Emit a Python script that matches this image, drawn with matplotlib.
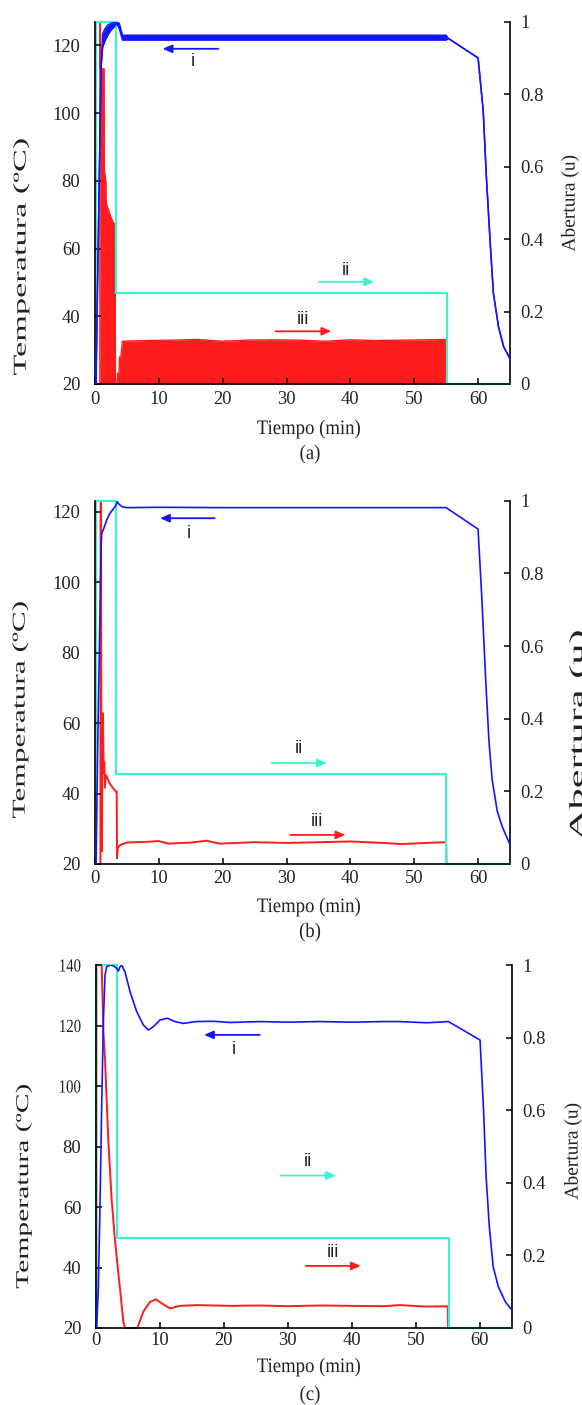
import matplotlib
matplotlib.use("Agg")
import matplotlib.pyplot as plt
from matplotlib.patheffects import AbstractPathEffect
from matplotlib.transforms import Affine2D

# ---------------- data ----------------
x_ticks = [0, 10, 20, 30, 40, 50, 60]
u_ticks = [0, 0.2, 0.4, 0.6, 0.8, 1.0]
u_labels = ["0", "0.2", "0.4", "0.6", "0.8", "1"]
T_ticks_ab = [20, 40, 60, 80, 100, 120]
T_ticks_c = [20, 40, 60, 80, 100, 120, 140]

# panel (a)
ta_temp = [0, 0.15, 0.95, 1.2, 1.6, 2.0, 2.5, 3.0, 3.4, 3.8, 4.3, 10, 20, 30, 40, 50, 55, 55.3,
           60, 60.8, 61.3, 61.9, 62.4, 63.2, 64.0, 65]
Ta_lo = [20, 20, 113.5, 119.5, 121.5, 123, 124.5, 125.5, 126.5, 125, 121.6, 121.6, 121.6, 121.6,
         121.6, 121.6, 121.6, 122.1, 116.3, 100.8, 81.2, 61.6, 46.8, 36.9, 31.0, 27.5]
Ta_hi = [20, 20, 113.5, 123.5, 125, 126, 126.5, 127, 127, 126.5, 123.0, 123.0, 123.0, 123.0,
         123.0, 123.0, 123.0, 122.1, 116.3, 100.8, 81.2, 61.6, 46.8, 36.9, 31.0, 27.5]
ta_red = [0, 0.76, 0.77, 0.83, 0.86, 1.42, 1.45, 1.70, 1.75, 2.10, 2.50, 2.90, 3.15, 3.20, 3.45,
          3.55, 3.75, 3.85, 4.05, 4.30, 8, 12, 16, 20, 24, 28, 32, 36, 40, 44, 48, 52, 55.0, 55.05, 65]
ua_red = [0, 0, 1.0, 1.0, 0.87, 0.87, 0.59, 0.56, 0.50, 0.48, 0.46, 0.445, 0.44, 0, 0,
          0.03, 0.03, 0.075, 0.075, 0.118, 0.12, 0.121, 0.123, 0.118, 0.121, 0.122, 0.121, 0.118,
          0.122, 0.12, 0.121, 0.122, 0.123, 0, 0]
ta_cyan = [0, 0.08, 0.08, 3.3, 3.3, 55.1, 55.1, 65]
ua_cyan = [0, 0, 1, 1, 0.25, 0.25, 0, 0]

# panel (b)
tb_temp = [0, 0.16, 0.5, 0.97, 1.05, 1.3, 1.83, 2.34, 2.86, 3.28, 3.5, 3.65, 4.17, 4.95, 10, 20,
           30, 40, 50, 55, 60, 60.6, 61.2, 61.7, 62.2, 63.0, 63.8, 65]
Tb_temp = [20, 20, 62, 110.5, 113.9, 114.8, 117.6, 119.5, 120.7, 121.8, 122.8, 122.3, 121.4, 121.1,
           121.2, 121.1, 121.1, 121.1, 121.1, 121.1, 115.0, 95, 72, 55, 44, 35, 30.5, 25.5]
tb_red = [0, 0.85, 0.88, 0.95, 1.0, 1.1, 1.15, 1.25, 1.35, 1.45, 1.55, 1.7, 1.85, 2.3, 2.85, 3.3,
          3.4, 3.45, 3.55, 3.9, 5, 8, 10, 11.5, 15, 17.5, 19.5, 25, 30, 35, 40, 45, 48, 52, 55,
          55.05, 65]
ub_red = [0, 0, 1.0, 1.0, 0.035, 0.035, 0.415, 0.415, 0.25, 0.28, 0.21, 0.245, 0.24, 0.222, 0.208,
          0.199, 0.199, 0.016, 0.043, 0.052, 0.059, 0.061, 0.063, 0.056, 0.059, 0.064, 0.056, 0.06,
          0.058, 0.06, 0.062, 0.058, 0.055, 0.058, 0.06, 0, 0]
tb_cyan = [0, 0.16, 0.16, 3.3, 3.3, 54.9, 54.9, 65]
ub_cyan = [0, 0, 1, 1, 0.248, 0.248, 0, 0]

# panel (c)
tc_temp = [0, 0.1, 0.36, 0.63, 0.89, 1.15, 1.41, 1.67, 2.19, 2.71, 3.23, 3.49, 3.75, 4.0, 4.53,
           5.32, 6.36, 7.4, 8.18, 8.96, 10.0, 11.15, 12.35, 13.65, 15.7, 18.3, 21, 25.6, 30, 35,
           40, 45, 47.5, 51.7, 55.1, 60.05, 60.6, 61.0, 61.5, 62.1, 62.9, 64.0, 65]
Tc_temp = [20, 20, 33.1, 60.7, 93.7, 121.3, 136.7, 139.4, 140, 139.8, 138.9, 138, 139.4, 140, 137.8,
           131.2, 124.6, 120.2, 118.5, 119.6, 121.8, 122.4, 121.3, 120.7, 121.3, 121.4, 121.0, 121.3,
           121.1, 121.3, 121.1, 121.3, 121.3, 120.9, 121.3, 115.2, 92, 70, 53.5, 40.3, 33.7, 28.7, 26.0]
tc_red = [0, 0.05, 0.06, 0.89, 1.15, 1.41, 1.56, 1.92, 2.45, 2.97, 3.49, 3.75, 4.27, 4.53, 6.46,
          7.4, 8.44, 9.38, 10.27, 11.57, 13.1, 15.7, 21, 25.6, 30, 35, 40, 45, 47.5, 51.7, 55.0,
          55.05, 65]
uc_red = [0, 0, 1.0, 1.0, 0.82, 0.74, 0.674, 0.518, 0.353, 0.242, 0.151, 0.109, 0.017, 0, 0,
          0.045, 0.072, 0.079, 0.068, 0.054, 0.061, 0.063, 0.061, 0.062, 0.06, 0.062, 0.061, 0.06,
          0.063, 0.059, 0.06, 0, 0]
tc_cyan = [0, 0.03, 0.03, 3.23, 3.23, 55.2, 55.2, 65]
uc_cyan = [0, 0, 1, 1, 0.249, 0.249, 0, 0]

# ---------------- style ----------------
W, H = 582, 1405
SERIF = "Liberation Serif"
SANS = "Liberation Sans"
BLUE = "#1414ff"
RED = "#ff1c1c"
CYAN = "#40f0d2"
TXT = "#222222"


class Stretch(AbstractPathEffect):
    """Scale the rendered glyph outline (text stays a real Text artist)."""

    def __init__(self, sx=1.0, sy=1.0, anchor="center"):
        super().__init__((0, 0))
        self.sx, self.sy, self.anchor = sx, sy, anchor

    def draw_path(self, renderer, gc, tpath, affine, rgbFace=None):
        v = affine.transform(tpath.vertices)
        if len(v) == 0:
            renderer.draw_path(gc, tpath, affine, rgbFace)
            return
        x0, y0 = v.min(axis=0)
        x1, y1 = v.max(axis=0)
        cx = x1 if self.anchor == "right" else 0.5 * (x0 + x1)
        cy = 0.5 * (y0 + y1)
        tr = affine + Affine2D().translate(-cx, -cy).scale(self.sx, self.sy).translate(cx, cy)
        renderer.draw_path(gc, tpath, tr, rgbFace)


fig = plt.figure(figsize=(W / 100, H / 100), dpi=100)


def fpos(x, y):
    return x / W, 1 - y / H


def arrow(ax, x0, x1, y, color):
    ax.annotate("", xy=(x1, y), xytext=(x0, y),
                arrowprops=dict(arrowstyle="-|>,head_length=0.5,head_width=0.22", color=color,
                                lw=1.3, shrinkA=0, shrinkB=0, mutation_scale=11))


def make_panel(rect, T_top, T_ticks, xpad, condensed_ticks=False):
    ax1 = fig.add_axes(rect)
    ax2 = ax1.twinx()
    ax1.set_zorder(ax2.get_zorder() + 1)
    ax1.patch.set_visible(False)
    ax1.set_xlim(0, 65)
    ax1.set_ylim(20, T_top)
    ax2.set_ylim(0, 1)
    for s in ["top", "right"]:
        ax1.spines[s].set_visible(False)
    for s in ["top", "left", "bottom"]:
        ax2.spines[s].set_visible(False)
    for a in (ax1, ax2):
        for s in a.spines.values():
            s.set_linewidth(1.2)
    ax1.set_xticks(x_ticks, [str(v) for v in x_ticks])
    ax1.set_yticks(T_ticks, [str(v) for v in T_ticks])
    ax2.set_yticks(u_ticks, u_labels)
    ax1.tick_params(axis="x", direction="in", length=4, width=1.1, pad=xpad, labelsize=13.3)
    ax1.tick_params(axis="y", direction="in", length=4, width=1.1, pad=10.5, labelsize=13.3)
    ax2.tick_params(axis="y", direction="in", length=4, width=1.1, pad=7.5, labelsize=13.3)
    for lab in ax1.get_xticklabels() + ax1.get_yticklabels() + ax2.get_yticklabels():
        lab.set_fontfamily(SERIF)
        lab.set_color(TXT)
    if condensed_ticks:
        for lab in ax1.get_yticklabels():
            if len(lab.get_text()) == 3:
                lab.set_path_effects([Stretch(sx=0.8, anchor="right")])
    return ax1, ax2


def labels(y_tiempo, y_letter, letter, left_c, left_s, right_c, right_s):
    fig.text(*fpos(309, y_tiempo), "Tiempo (min)", ha="center", va="center", fontsize=13.5,
             family=SERIF, color=TXT, path_effects=[Stretch(sy=1.1)])
    fig.text(*fpos(310, y_letter), letter, ha="center", va="center", fontsize=13.5,
             family=SERIF, color=TXT, path_effects=[Stretch(sy=1.1)])
    fig.text(*fpos(*left_c), "Temperatura (ºC)", rotation=90, ha="center", va="center",
             fontsize=13, family=SERIF, color=TXT, path_effects=[Stretch(sy=left_s)])
    fig.text(*fpos(*right_c), "Abertura (u)", rotation=90, ha="center", va="center",
             fontsize=14, family=SERIF, color=TXT, path_effects=[Stretch(sy=right_s)])


def tag(ax, x, y, s):
    ax.text(x, y, s, ha="center", va="center", fontsize=13.5, family=SANS, color=TXT)


# ---------------- panel (a) ----------------
ax1, ax2 = make_panel([95 / W, 1 - 384 / H, 415 / W, 362.3 / H], 127.0, T_ticks_ab, 5)
ax2.fill_between(ta_red, 0, ua_red, color=RED, lw=0, zorder=2)
ax2.plot(ta_red, ua_red, color=RED, lw=1.0, zorder=2, clip_on=False)
ax2.plot(ta_cyan, ua_cyan, color=CYAN, lw=1.6, zorder=3, clip_on=False)
ax1.fill_between(ta_temp, Ta_lo, Ta_hi, color=BLUE, lw=0, zorder=3)
ax1.plot(ta_temp, Ta_lo, color=BLUE, lw=1.1, zorder=3)
ax1.plot(ta_temp, Ta_hi, color=BLUE, lw=1.1, zorder=3)
arrow(ax1, 19.3, 10.6, 119.0, BLUE)
tag(ax1, 15.3, 115.1, "i")
arrow(ax2, 35.1, 43.7, 0.282, CYAN)
tag(ax2, 39.3, 0.313, "ii")
arrow(ax2, 28.3, 37.0, 0.1455, RED)
tag(ax2, 32.5, 0.179, "iii")
labels(429, 454, "(a)", (21, 257), 1.9, (570, 203), 1.0)

# ---------------- panel (b) ----------------
ax1, ax2 = make_panel([95 / W, 1 - 864 / H, 415 / W, 363.3 / H], 123.07, T_ticks_ab, 4)
ax2.plot(tb_red, ub_red, color=RED, lw=1.4, zorder=2, clip_on=False)
ax2.plot(tb_cyan, ub_cyan, color=CYAN, lw=1.6, zorder=3, clip_on=False)
ax1.plot(tb_temp, Tb_temp, color=BLUE, lw=1.2, zorder=3)
arrow(ax1, 18.75, 10.2, 118.1, BLUE)
tag(ax1, 14.7, 113.9, "i")
arrow(ax2, 27.7, 36.3, 0.278, CYAN)
tag(ax2, 32.0, 0.317, "ii")
arrow(ax2, 30.6, 39.2, 0.08, RED)
tag(ax2, 34.8, 0.116, "iii")
labels(907, 932, "(b)", (20, 710), 1.74, (578, 735), 2.18)

# ---------------- panel (c) ----------------
ax1, ax2 = make_panel([96 / W, 1 - 1328 / H, 415.7 / W, 363 / H], 140.0, T_ticks_c, 3,
                      condensed_ticks=True)
ax2.plot(tc_red, uc_red, color=RED, lw=1.4, zorder=2, clip_on=False)
ax2.plot(tc_cyan, uc_cyan, color=CYAN, lw=1.6, zorder=3, clip_on=False)
ax1.plot(tc_temp, Tc_temp, color=BLUE, lw=1.2, zorder=3)
arrow(ax1, 25.6, 16.9, 116.9, BLUE)
tag(ax1, 21.5, 112.1, "i")
arrow(ax2, 28.9, 37.5, 0.42, CYAN)
tag(ax2, 33.1, 0.458, "ii")
arrow(ax2, 32.8, 41.4, 0.171, RED)
tag(ax2, 37.1, 0.207, "iii")
labels(1367, 1395, "(c)", (23.5, 1186.5), 1.64, (573, 1151), 1.0)

fig.savefig("out.png", dpi=100)
